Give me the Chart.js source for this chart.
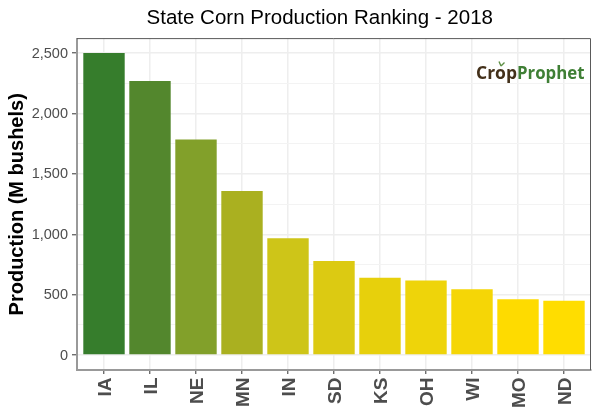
<!DOCTYPE html>
<html>
<head>
<meta charset="utf-8">
<style>html,body{margin:0;padding:0;background:#fff}canvas{display:block}</style>
<script src="https://cdn.jsdelivr.net/npm/chart.js@4"></script>
</head>
<body>
<canvas id="c" width="600" height="420"></canvas>
<script>
const categories = ['IA','IL','NE','MN','IN','SD','KS','OH','WI','MO','ND'];
const production = [2500,2268,1785,1358,966,778,640,618,544,461,450];
const barColors = ['#367d2c','#53872d','#82a02a','#aab020','#cec518','#dcca12','#e7d00c','#eed40a','#f5d606','#fedb00','#ffdd00'];
const yGridValues = [0,250,500,750,1000,1250,1500,1750,2000,2250,2500];
const chartTitle = 'State Corn Production Ranking - 2018';
const yTitle = 'Production (M bushels)';

const FONT = '"Liberation Sans", Arial, sans-serif';
const GRID = '#eeeeee';
const TICK = '#555555';

const shiftTitle = {
  id:'shiftTitle',
  afterLayout(chart){
    const t = chart.titleBlock;
    t.left += 24.5; t.right += 24.5;
  }
};
const frame = {
  id:'frame',
  afterDatasetsDraw(chart){
    const {ctx, chartArea:a} = chart;
    ctx.save();
    ctx.strokeStyle = '#5a5a5a';
    ctx.lineWidth = 1;
    ctx.beginPath();
    ctx.moveTo(a.left, a.top);
    ctx.lineTo(a.right, a.top);
    ctx.lineTo(a.right, a.bottom);
    ctx.stroke();
    ctx.restore();
  }
};
const logo = {
  id:'logo',
  afterDraw(chart){
    const {ctx} = chart;
    ctx.save();
    ctx.font = 'bold 18px "Open Sans", ' + FONT;
    ctx.textBaseline = 'alphabetic';
    ctx.textAlign = 'left';
    const s1 = 'Crop', s2 = 'Prophet';
    ctx.fillStyle = '#43301a';
    ctx.fillText(s1, 476, 78.5, 41);
    ctx.fillStyle = '#3f7f35';
    ctx.fillText(s2, 517, 78.5, 67.5);
    ctx.strokeStyle = '#5d8f45';
    ctx.lineWidth = 1.4;
    ctx.beginPath();
    ctx.moveTo(501, 66); ctx.lineTo(499, 61.5);
    ctx.moveTo(501, 66); ctx.lineTo(504.5, 62.5);
    ctx.stroke();
    ctx.restore();
  }
};

new Chart(document.getElementById('c'), {
  type:'bar',
  data:{
    datasets:[{
      data: categories.map((c,i)=>({x:i+1,y:production[i]})),
      backgroundColor: barColors,
      barPercentage:0.9,
      categoryPercentage:1,
      borderWidth:0
    }]
  },
  plugins:[shiftTitle, frame, logo],
  options:{
    responsive:false,
    animation:false,
    devicePixelRatio:1,
    layout:{padding:{left:0,right:9.5,top:0,bottom:0}},
    plugins:{
      legend:{display:false},
      tooltip:{enabled:false},
      title:{
        display:true,
        text:chartTitle,
        color:'#000',
        font:{family:FONT,size:20.5,weight:'normal'},
        padding:{top:6,bottom:8}
      }
    },
    scales:{
      x:{
        type:'linear',
        min:0.413,
        max:11.576,
        offset:false,
        afterBuildTicks(s){ s.ticks = categories.map((c,i)=>({value:i+1})); },
        afterFit(s){ s.height = 50; },
        border:{color:'#999999',width:2},
        grid:{offset:false,color:GRID,lineWidth:1.5,tickColor:TICK,tickLength:4,tickWidth:1.2},
        ticks:{
          autoSkip:false,
          maxRotation:90,
          minRotation:90,
          padding:3.5,
          labelOffset:1.5,
          color:'#4d4d4d',
          font:{family:FONT,size:19,weight:'bold'},
          callback:v=>categories[v-1] ?? ''
        }
      },
      y:{
        min:-124,
        max:2620,
        afterBuildTicks(s){ s.ticks = yGridValues.map(v=>({value:v})); },
        afterFit(s){ s.width = 77; },
        border:{color:'#999999',width:2},
        title:{
          display:true,
          text:yTitle,
          color:'#000',
          font:{family:FONT,size:20,weight:'bold'},
          padding:{top:5,bottom:0}
        },
        grid:{
          color:c=>c.tick && c.tick.value%500===0 ? GRID : '#f3f3f3',
          lineWidth:c=>c.tick && c.tick.value%500===0 ? 1.5 : 1,
          tickColor:c=>c.tick && c.tick.value%500===0 ? TICK : 'rgba(0,0,0,0)',
          tickLength:5,
          tickWidth:1.2
        },
        ticks:{
          autoSkip:false,
          padding:4,
          labelOffset:0.5,
          color:'#4d4d4d',
          font:{family:FONT,size:14.5},
          callback:v=>v%500===0 ? v.toLocaleString('en-US') : ''
        }
      }
    }
  }
});
</script>
</body>
</html>
